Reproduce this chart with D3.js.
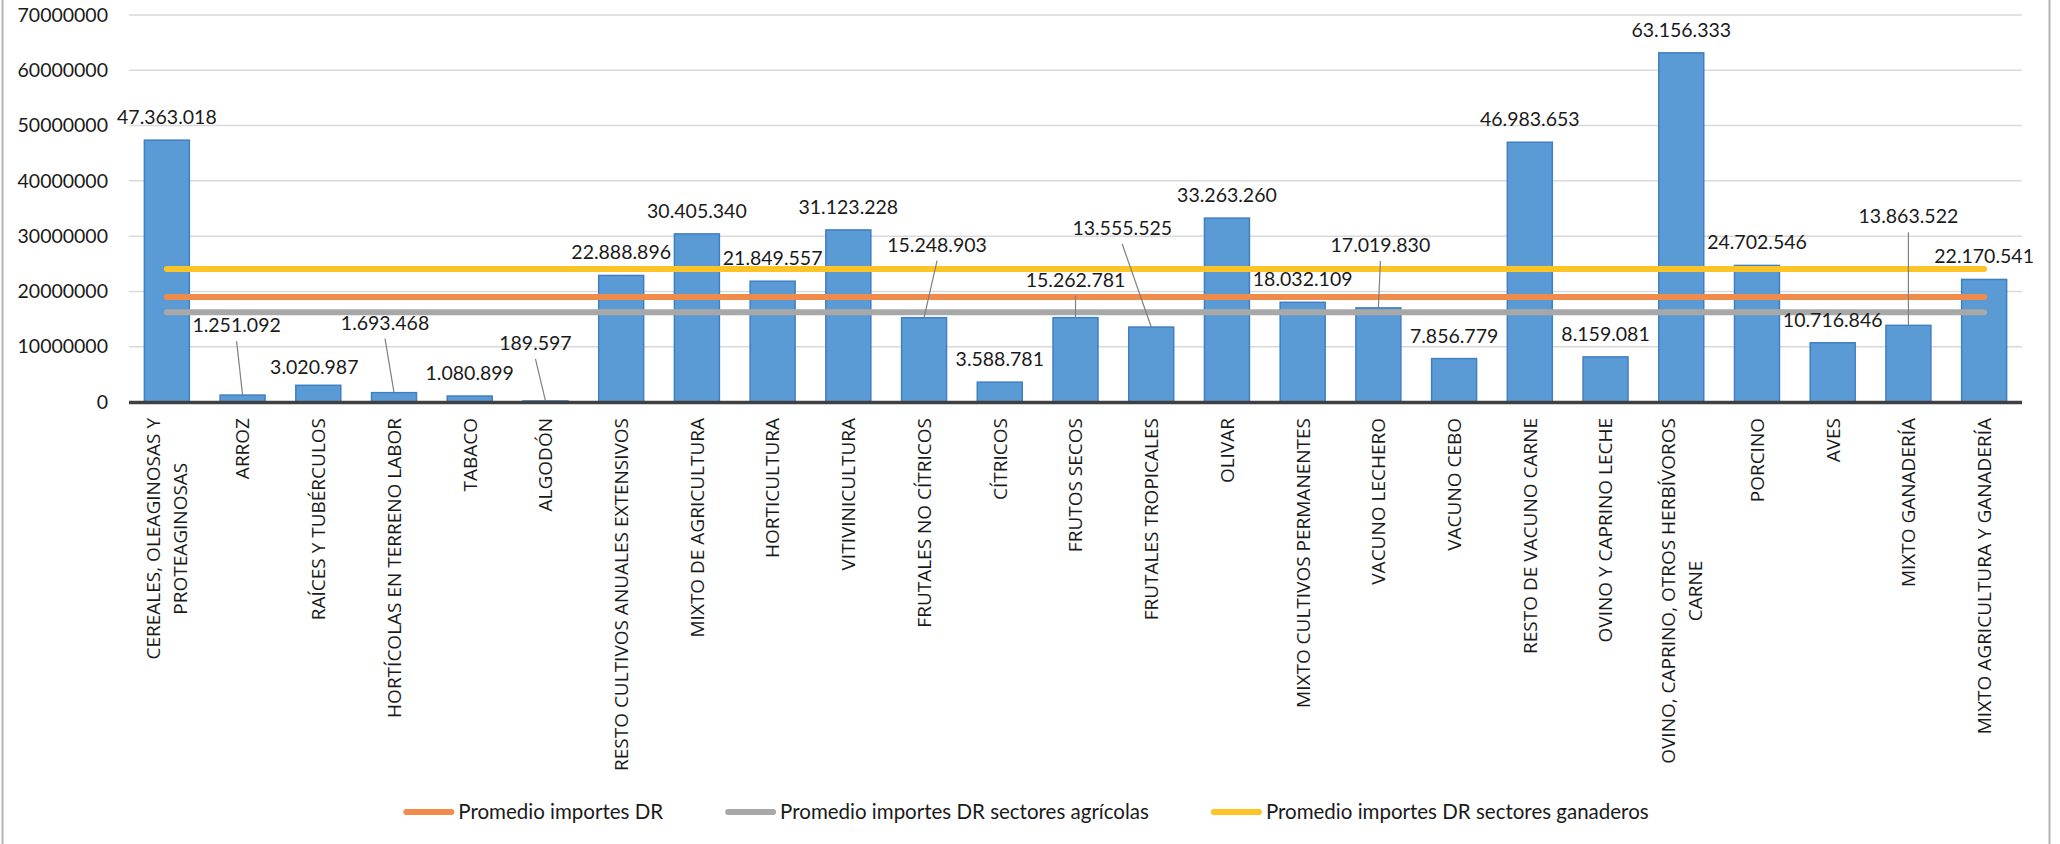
<!DOCTYPE html>
<html>
<head>
<meta charset="utf-8">
<script src="https://cdn.jsdelivr.net/npm/d3@7"></script>
<style>
  html, body { margin: 0; padding: 0; background: #ffffff; }
  svg { display: block; }
</style>
</head>
<body>
<svg id="chart" width="2060" height="844"></svg>
<script>
// Categories (line breaks mark the wrapped axis labels)
const categories = [
  "CEREALES, OLEAGINOSAS Y\nPROTEAGINOSAS",
  "ARROZ",
  "RAÍCES Y TUBÉRCULOS",
  "HORTÍCOLAS EN TERRENO LABOR",
  "TABACO",
  "ALGODÓN",
  "RESTO CULTIVOS ANUALES EXTENSIVOS",
  "MIXTO DE AGRICULTURA",
  "HORTICULTURA",
  "VITIVINICULTURA",
  "FRUTALES NO CÍTRICOS",
  "CÍTRICOS",
  "FRUTOS SECOS",
  "FRUTALES TROPICALES",
  "OLIVAR",
  "MIXTO CULTIVOS PERMANENTES",
  "VACUNO LECHERO",
  "VACUNO CEBO",
  "RESTO DE VACUNO CARNE",
  "OVINO Y CAPRINO LECHE",
  "OVINO, CAPRINO, OTROS HERBÍVOROS\nCARNE",
  "PORCINO",
  "AVES",
  "MIXTO GANADERÍA",
  "MIXTO AGRICULTURA Y GANADERÍA"
];

// Importes DR per sector
const importes = [
  47363018, 1251092, 3020987, 1693468, 1080899, 189597, 22888896, 30405340,
  21849557, 31123228, 15248903, 3588781, 15262781, 13555525, 33263260, 18032109,
  17019830, 7856779, 46983653, 8159081, 63156333, 24702546, 10716846, 13863522,
  22170541
];

// Average reference lines
const seriesNames = [
  "Promedio importes DR",
  "Promedio importes DR sectores agrícolas",
  "Promedio importes DR sectores ganaderos"
];
const promedios = [18977863, 16238590, 24057324];
const seriesColors = ["#EF8B4B", "#A8A8A8", "#FCC427"];
// draw order: gray, orange, yellow on top
const drawOrder = [1, 0, 2];

// Value axis ticks
const yTicks = [0, 10000000, 20000000, 30000000, 40000000, 50000000, 60000000, 70000000];

// Manually placed data labels: pixel nudge from the default spot above the bar, and whether a leader line is drawn
const labelNudge = [
  [0, 0], [-6, -47], [-4, 5], [-9, -47], [0, 0], [-10, -35], [0, 0], [0, 0],
  [0, 0], [0, 0], [13, -50], [0, 0], [0, -15], [-29, -76], [0, 0], [0, 0],
  [2, -40], [0, 0], [0, 0], [0, 0], [0, 0], [0, 0], [0, 0], [0, -86], [0, 0]
];
const hasLeader = [
  false, true, false, true, false, true, false, false,
  false, false, true, false, true, true, false, false,
  true, false, false, false, false, false, false, true, false
];

const numFont = "Lato, 'Liberation Sans', sans-serif";
const catFont = "'Open Sans', 'DejaVu Sans', sans-serif";

const svg = d3.select("#chart");
const plot = { left: 129, right: 2022, top: 15, bottom: 402 };

const x = d3.scaleBand()
  .domain(d3.range(categories.length))
  .range([plot.left, plot.right])
  .paddingInner(0.406)
  .paddingOuter(0.203);

const y = d3.scaleLinear()
  .domain([0, 70000000])
  .range([plot.bottom, plot.top]);

const cx = i => x(i) + x.bandwidth() / 2;
const fmt = v => d3.format(",")(v).replace(/,/g, ".");

// chart frame
svg.append("rect")
  .attr("x", 2.5).attr("y", -10)
  .attr("width", 2047).attr("height", 870)
  .attr("fill", "none")
  .attr("stroke", "#b3b3b3")
  .attr("stroke-width", 2);

// gridlines
svg.append("g")
  .selectAll("line")
  .data(yTicks.filter(t => t > 0))
  .join("line")
  .attr("x1", plot.left).attr("x2", plot.right)
  .attr("y1", d => y(d)).attr("y2", d => y(d))
  .attr("stroke", "#d9d9d9")
  .attr("stroke-width", 1.5);

// value axis labels
const yAxis = d3.axisLeft(y).tickValues(yTicks).tickSize(0).tickPadding(0).tickFormat(d3.format("d"));
const yAxisG = svg.append("g")
  .attr("transform", `translate(${plot.left - 21},0)`)
  .call(yAxis);
yAxisG.select(".domain").remove();
yAxisG.selectAll("text")
  .attr("font-family", numFont)
  .attr("font-size", 19.5)
  .attr("fill", "#1a1a1a");

// bars
svg.append("g")
  .selectAll("rect")
  .data(importes)
  .join("rect")
  .attr("x", (d, i) => x(i))
  .attr("y", d => y(d))
  .attr("width", x.bandwidth())
  .attr("height", d => y(0) - y(d))
  .attr("fill", "#5B9BD5")
  .attr("stroke", "#3f7fc2")
  .attr("stroke-width", 1.5);

// category axis line
svg.append("line")
  .attr("x1", plot.left).attr("x2", plot.right)
  .attr("y1", y(0) + 0.5).attr("y2", y(0) + 0.5)
  .attr("stroke", "#404040")
  .attr("stroke-width", 3.5);

// average lines, spanning first to last category centre
svg.append("g")
  .selectAll("line")
  .data(drawOrder)
  .join("line")
  .attr("x1", cx(0))
  .attr("x2", cx(categories.length - 1))
  .attr("y1", k => y(promedios[k]))
  .attr("y2", k => y(promedios[k]))
  .attr("stroke", k => seriesColors[k])
  .attr("stroke-width", 6)
  .attr("stroke-linecap", "round");

// data labels
const labelPos = importes.map((v, i) => ({
  v, i,
  lx: cx(i) + labelNudge[i][0],
  ly: y(v) - 23 + labelNudge[i][1]
}));

svg.append("g")
  .selectAll("line")
  .data(labelPos.filter(d => hasLeader[d.i]))
  .join("line")
  .attr("x1", d => d.lx).attr("y1", d => d.ly + 16)
  .attr("x2", d => cx(d.i)).attr("y2", d => y(d.v))
  .attr("stroke", "#808080")
  .attr("stroke-width", 1.2);

svg.append("g")
  .selectAll("text")
  .data(labelPos)
  .join("text")
  .attr("x", d => d.lx)
  .attr("y", d => d.ly)
  .attr("dy", "0.36em")
  .attr("text-anchor", "middle")
  .attr("font-family", numFont)
  .attr("font-size", 19.5)
  .attr("fill", "#1a1a1a")
  .text(d => fmt(d.v));

// rotated category labels
const catG = svg.append("g");
categories.forEach((c, i) => {
  const lines = c.split("\n");
  const g = catG.append("g")
    .attr("transform", `translate(${cx(i)},418) rotate(-90)`);
  const texts = lines.map((ln, k) => g.append("text")
    .attr("y", (k - (lines.length - 1) / 2) * 27)
    .attr("dy", "0.36em")
    .attr("font-family", catFont)
    .attr("font-size", 19)
    .attr("fill", "#1a1a1a")
    .attr("text-anchor", "middle")
    .text(ln));
  const maxLen = d3.max(texts, t => t.node().getComputedTextLength());
  texts.forEach(t => t.attr("x", -maxLen / 2));
});

// legend, centred on the chart frame
const legend = svg.append("g");
const sample = 51, gapText = 4, gapItem = 62;
const legendY = 812;
const items = seriesNames.map((name, k) => {
  const t = legend.append("text")
    .attr("y", legendY)
    .attr("dy", "0.36em")
    .attr("font-family", numFont)
    .attr("font-size", 20.5)
    .attr("fill", "#1a1a1a")
    .text(name);
  return { k, t, w: t.node().getComputedTextLength() };
});
const total = d3.sum(items, d => sample + gapText + d.w) + gapItem * (items.length - 1);
let lx = 1026 - total / 2;
items.forEach(d => {
  legend.append("line")
    .attr("x1", lx + 3).attr("x2", lx + sample - 3)
    .attr("y1", legendY).attr("y2", legendY)
    .attr("stroke", seriesColors[d.k])
    .attr("stroke-width", 6)
    .attr("stroke-linecap", "round");
  d.t.attr("x", lx + sample + gapText);
  lx += sample + gapText + d.w + gapItem;
});
</script>
</body>
</html>
